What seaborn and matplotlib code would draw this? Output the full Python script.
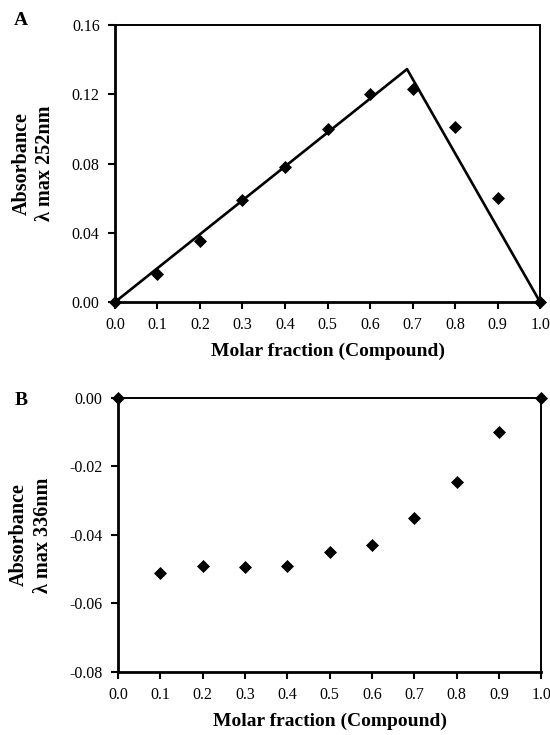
import matplotlib
matplotlib.use("Agg")
import matplotlib.pyplot as plt
import seaborn as sns
import pandas as pd

# Job plot data: molar fraction of compound vs absorbance
molar_fraction = [0.0, 0.1, 0.2, 0.3, 0.4, 0.5, 0.6, 0.7, 0.8, 0.9, 1.0]
abs_252 = [0.0, 0.016, 0.035, 0.059, 0.078, 0.100, 0.120, 0.123, 0.101, 0.060, 0.0]
abs_336 = [0.0, -0.051, -0.049, -0.0495, -0.049, -0.045, -0.043, -0.035, -0.0245, -0.010, 0.0]

# Linear segments of the fit for panel A (rise, break point, fall)
fit_x = [0.0, 0.687, 1.0]
fit_y = [0.0, 0.1345, 0.0]

sns.set_theme(style="white")
plt.rcParams['font.family'] = ['Liberation Serif', 'DejaVu Serif']
plt.rcParams['text.color'] = 'black'
plt.rcParams['axes.labelcolor'] = 'black'
plt.rcParams['xtick.color'] = 'black'
plt.rcParams['ytick.color'] = 'black'

fig = plt.figure(figsize=(5.5, 7.35), dpi=100)
axA = fig.add_axes([0.209, 0.589, 0.773, 0.377])
axB = fig.add_axes([0.2145, 0.0857, 0.7695, 0.373])

dfA = pd.DataFrame({"x": molar_fraction, "y": abs_252})
dfB = pd.DataFrame({"x": molar_fraction, "y": abs_336})
dfFit = pd.DataFrame({"x": fit_x, "y": fit_y})

sns.lineplot(data=dfFit, x="x", y="y", ax=axA, color="black", linewidth=1.9,
             sort=False, estimator=None)
sns.scatterplot(data=dfA, x="x", y="y", ax=axA, marker="D", s=44, color="black",
                edgecolor="black", linewidth=0, clip_on=False, zorder=5)
sns.scatterplot(data=dfB, x="x", y="y", ax=axB, marker="D", s=44, color="black",
                edgecolor="black", linewidth=0, clip_on=False, zorder=5)

for line in axA.lines:
    line.set_clip_on(False)

axA.set_xlim(0, 1.0)
axA.set_ylim(0, 0.16)
axA.set_yticks([0.0, 0.04, 0.08, 0.12, 0.16])
axA.set_yticklabels(["0.00", "0.04", "0.08", "0.12", "0.16"])
axB.set_xlim(0, 1.0)
axB.set_ylim(-0.08, 0.0)
axB.set_yticks([-0.08, -0.06, -0.04, -0.02, 0.0])
axB.set_yticklabels(["-0.08", "-0.06", "-0.04", "-0.02", "0.00"])

xt = [0.0, 0.1, 0.2, 0.3, 0.4, 0.5, 0.6, 0.7, 0.8, 0.9, 1.0]
for ax, ylab in [(axA, "Absorbance\nλ max 252nm"), (axB, "Absorbance\nλ max 336nm")]:
    ax.set_xticks(xt)
    ax.set_xticklabels([f"{v:.1f}" for v in xt])
    ax.tick_params(axis="both", direction="out", length=5, width=1.5, colors="black",
                   labelsize=11.5, pad=6, left=True, bottom=True)
    ax.set_xlabel("Molar fraction (Compound)", fontsize=14, fontweight="bold", labelpad=7)
    ax.set_ylabel(ylab, fontsize=14.5, fontweight="bold", labelpad=12, linespacing=1.25)
    for side in ["left", "bottom"]:
        ax.spines[side].set_linewidth(2.0)
        ax.spines[side].set_color("black")
    for side in ["top", "right"]:
        ax.spines[side].set_linewidth(1.4)
        ax.spines[side].set_color("black")

fig.text(0.038, 0.972, "A", fontsize=14, fontweight="bold", ha="center", va="center")
fig.text(0.038, 0.455, "B", fontsize=14, fontweight="bold", ha="center", va="center")

fig.savefig("out.png", dpi=100, facecolor="white")
